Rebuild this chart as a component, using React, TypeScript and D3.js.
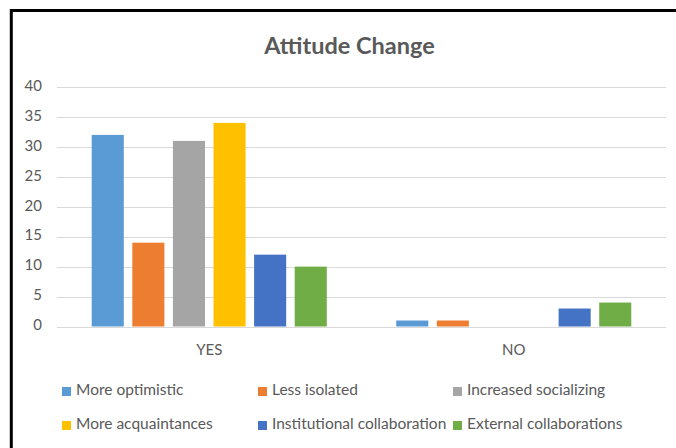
import React from "react";
import * as d3 from "d3";

const categories = ["YES", "NO"];
const seriesNames = [
  "More optimistic",
  "Less isolated",
  "Increased socializing",
  "More acquaintances",
  "Institutional collaboration",
  "External collaborations",
];
const seriesColors = ["#5B9BD5", "#ED7D31", "#A5A5A5", "#FFC000", "#4472C4", "#70AD47"];
const moreOptimistic = [32, 1];
const lessIsolated = [14, 1];
const increasedSocializing = [31, 0];
const moreAcquaintances = [34, 0];
const institutionalCollaboration = [12, 3];
const externalCollaborations = [10, 4];
const seriesValues = [
  moreOptimistic,
  lessIsolated,
  increasedSocializing,
  moreAcquaintances,
  institutionalCollaboration,
  externalCollaborations,
];
const yTicks = [0, 5, 10, 15, 20, 25, 30, 35, 40];

const W = 676;
const H = 448;
const FONT = "Lato, 'Open Sans', sans-serif";
const TXT = "#595959";

export default function App() {
  const x0 = d3.scaleBand<string>().domain(categories).range([57, 666]).paddingInner(0).paddingOuter(0);
  const bw = x0.bandwidth();
  const groupW = bw * 0.8;
  const x1 = d3
    .scaleBand<number>()
    .domain(d3.range(seriesNames.length))
    .range([(bw - groupW) / 2, (bw + groupW) / 2])
    .paddingInner(0.21)
    .paddingOuter(0.105);
  const y = d3.scaleLinear().domain([0, 40]).range([326.5, 87]);

  const legendCols = [62, 258, 453];
  const legendRows = [391.5, 425.5];

  return (
    <svg width={W} height={H} style={{ position: "absolute", left: 0, top: 0, background: "#fff" }}>
      <rect x={0} y={0} width={W} height={H} fill="#fff" />
      {/* frame */}
      <line x1={11.3} x2={11.3} y1={9} y2={H} stroke="#000" strokeWidth={3} />
      <line x1={10} x2={W} y1={10.5} y2={10.5} stroke="#000" strokeWidth={3} />
      {/* title */}
      <text x={349.5} y={48} textAnchor="middle" dominantBaseline="middle" fontFamily={FONT} fontWeight="bold" fontSize={23.5} fill={TXT}>
        Attitude Change
      </text>
      {/* gridlines */}
      {yTicks.map((t) => (
        <g key={t}>
          <line x1={57} x2={666} y1={Math.round(y(t)) + 0.5} y2={Math.round(y(t)) + 0.5} stroke="#D9D9D9" strokeWidth={1} />
          <text x={42} y={y(t)} textAnchor="end" dominantBaseline="middle" fontFamily={FONT} fontSize={15} fill={TXT}>
            {t}
          </text>
        </g>
      ))}
      {/* bars */}
      {categories.map((c, ci) => (
        <g key={c} transform={`translate(${x0(c)},0)`}>
          {seriesValues.map((vals, si) =>
            vals[ci] > 0 ? (
              <rect
                key={si}
                x={x1(si)}
                y={y(vals[ci])}
                width={x1.bandwidth()}
                height={y(0) - y(vals[ci])}
                fill={seriesColors[si]}
              />
            ) : null
          )}
          <text x={bw / 2} y={351} textAnchor="middle" dominantBaseline="middle" fontFamily={FONT} fontSize={15} fill={TXT}>
            {c}
          </text>
        </g>
      ))}
      {/* legend */}
      {seriesNames.map((n, i) => {
        const lx = legendCols[i % 3];
        const ly = legendRows[Math.floor(i / 3)];
        return (
          <g key={n}>
            <rect x={lx} y={ly - 4.5} width={9} height={9} fill={seriesColors[i]} />
            <text x={lx + 14} y={ly} dominantBaseline="middle" fontFamily={FONT} fontSize={15.5} fill={TXT}>
              {n}
            </text>
          </g>
        );
      })}
    </svg>
  );
}
